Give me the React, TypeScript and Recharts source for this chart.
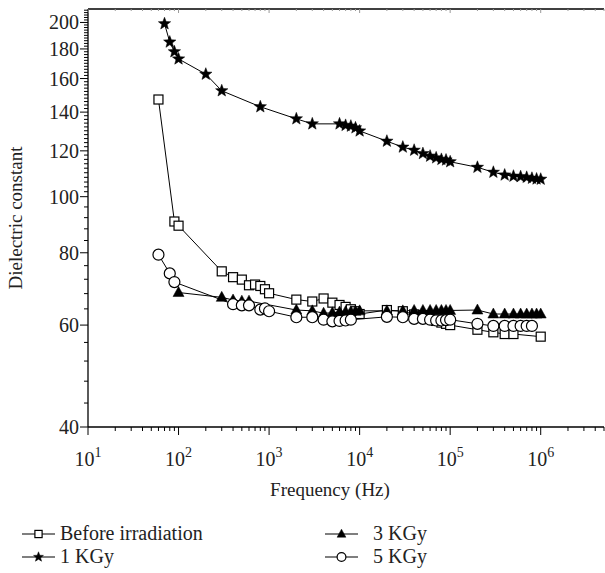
import React from 'react';
import { ComposedChart, Line, XAxis, YAxis } from 'recharts';

// ---------- data ----------
const beforeFreq = [60, 90, 100, 300, 400, 500, 600, 700, 800, 900, 1000, 2000, 3000, 4000, 5000, 6000, 7000, 8000, 9000, 10000, 20000, 30000, 40000, 50000, 60000, 70000, 80000, 90000, 100000, 200000, 300000, 400000, 500000, 1000000];
const beforeVal = [147.2, 90.6, 89.1, 74.3, 72.6, 71.9, 70.3, 70.5, 70.1, 69.2, 68.1, 66.4, 65.9, 66.7, 65.6, 65.0, 64.5, 63.9, 63.4, 62.7, 63.7, 63.4, 62.6, 62.0, 61.5, 61.0, 60.6, 60.3, 60.0, 58.9, 58.3, 57.9, 57.9, 57.3];

const kgy1Freq = [70, 80, 90, 100, 200, 300, 800, 2000, 3000, 6000, 7000, 8000, 9000, 10000, 20000, 30000, 40000, 50000, 60000, 70000, 80000, 90000, 100000, 200000, 300000, 400000, 500000, 600000, 700000, 800000, 900000, 1000000];
const kgy1Val = [199, 185, 178, 173, 162.8, 152.4, 143, 136.3, 133.6, 133.6, 132.8, 132.4, 131.5, 129.9, 124.7, 121.8, 120.3, 118.7, 117.5, 116.7, 116, 115.7, 114.9, 112.4, 110.2, 109, 108.5, 108.3, 108, 107.6, 107.3, 107.2];

const kgy3Freq = [100, 300, 400, 500, 600, 2000, 3000, 4000, 5000, 6000, 7000, 8000, 9000, 10000, 20000, 30000, 40000, 50000, 60000, 70000, 80000, 90000, 100000, 200000, 300000, 400000, 500000, 600000, 700000, 800000, 900000, 1000000];
const kgy3Val = [68.3, 67.0, 66.3, 66.0, 66.0, 63.7, 63.5, 62.9, 63.0, 63.2, 63.3, 63.3, 63.4, 63.5, 63.5, 63.5, 63.6, 63.6, 63.6, 63.6, 63.6, 63.6, 63.6, 63.7, 62.7, 62.7, 62.7, 62.7, 62.7, 62.7, 62.7, 62.7];

const kgy5Freq = [60, 80, 90, 400, 500, 600, 800, 900, 1000, 2000, 3000, 4000, 5000, 6000, 7000, 8000, 20000, 30000, 40000, 50000, 60000, 70000, 80000, 90000, 100000, 200000, 300000, 400000, 500000, 600000, 700000, 800000];
const kgy5Val = [79.4, 73.7, 71.2, 65.2, 64.9, 64.9, 63.8, 64.1, 63.4, 61.9, 61.9, 61.3, 60.9, 61.0, 61.1, 61.3, 62.0, 61.9, 61.5, 61.5, 61.3, 61.1, 61.1, 61.2, 61.3, 60.3, 59.8, 59.8, 59.8, 59.8, 59.8, 59.8];

const seriesNames = ['Before irradiation', '1 KGy', '3 KGy', '5 KGy'];

const xMajorTicks = [10, 100, 1000, 10000, 100000, 1000000];
const xTickExponents = ['1', '2', '3', '4', '5', '6'];
const yMajorTicks = [40, 60, 80, 100, 120, 140, 160, 180, 200];

// ---------- helpers ----------
const toRows = (fs: number[], vs: number[]) => fs.map((f, i) => ({ f, v: vs[i] }));
const beforeData = toRows(beforeFreq, beforeVal);
const kgy1Data = toRows(kgy1Freq, kgy1Val);
const kgy3Data = toRows(kgy3Freq, kgy3Val);
const kgy5Data = toRows(kgy5Freq, kgy5Val);

const xAllTicks: number[] = [];
for (let e = 1; e <= 6; e++) {
  for (let m = 1; m <= 9; m++) {
    const v = m * Math.pow(10, e);
    if (v <= 5000000) xAllTicks.push(v);
  }
}
const yAllTicks: number[] = [];
for (let v = 40; v < 100; v += 4) yAllTicks.push(v);
for (let v = 100; v <= 210; v += 2) yAllTicks.push(v);

const FONT = '"Liberation Serif", "Times New Roman", serif';

// ---------- markers ----------
const starPoints = (cx: number, cy: number, R: number) => {
  const r = R * 0.42;
  const pts: string[] = [];
  for (let i = 0; i < 10; i++) {
    const a = -Math.PI / 2 + (i * Math.PI) / 5;
    const rr = i % 2 === 0 ? R : r;
    pts.push(`${cx + rr * Math.cos(a)},${cy + rr * Math.sin(a)}`);
  }
  return pts.join(' ');
};

const Marker = ({ kind, cx, cy, s = 1 }: { kind: number; cx: number; cy: number; s?: number }) => {
  if (kind === 0)
    return <rect x={cx - 4.5 * s} y={cy - 4.5 * s} width={9 * s} height={9 * s} fill="#fff" stroke="#000" strokeWidth={1.2} />;
  if (kind === 1) return <polygon points={starPoints(cx, cy, 6.5 * s)} fill="#000" stroke="#000" strokeWidth={0.5} />;
  if (kind === 2)
    return (
      <polygon
        points={`${cx},${cy - 6 * s} ${cx + 5.5 * s},${cy + 4 * s} ${cx - 5.5 * s},${cy + 4 * s}`}
        fill="#000"
        stroke="#000"
        strokeWidth={0.5}
      />
    );
  return <circle cx={cx} cy={cy} r={5.5 * s} fill="#fff" stroke="#000" strokeWidth={1.2} />;
};

const makeDot = (kind: number) => (p: any) => {
  if (p.cx == null || p.cy == null) return <g key={`${kind}-${p.index}`} />;
  return (
    <g key={`${kind}-${p.index}`}>
      <Marker kind={kind} cx={p.cx} cy={p.cy} />
    </g>
  );
};

// ---------- ticks ----------
const XTick = (p: any) => {
  const v = p.payload.value;
  const idx = xMajorTicks.indexOf(v);
  const major = idx >= 0;
  return (
    <g>
      <line x1={p.x} y1={p.y} x2={p.x} y2={p.y + (major ? 8 : 4)} stroke="#000" strokeWidth={1} />
      {major && (
        <text x={p.x} y={p.y + 39} textAnchor="middle" fontFamily={FONT} fontSize={20} fill="#222">
          10
          <tspan dy={-9} fontSize={14}>
            {xTickExponents[idx]}
          </tspan>
        </text>
      )}
    </g>
  );
};

const XTopTick = (p: any) => {
  const v = p.payload.value;
  const major = xMajorTicks.indexOf(v) >= 0;
  return <line x1={p.x} y1={p.y} x2={p.x} y2={p.y + (major ? 4 : 2)} stroke="#999" strokeWidth={1} />;
};

const YTick = (p: any) => {
  const v = p.payload.value;
  const major = yMajorTicks.indexOf(v) >= 0;
  return (
    <g>
      <line x1={p.x - (major ? 8 : 4)} y1={p.y} x2={p.x} y2={p.y} stroke="#000" strokeWidth={1} />
      {major && (
        <text x={p.x - 9} y={p.y + 7} textAnchor="end" fontFamily={FONT} fontSize={20} fill="#222">
          {v}
        </text>
      )}
    </g>
  );
};

// ---------- legend ----------
const LegendBlock = () => {
  const items = [
    { kind: 0, x: 22, y: 534 },
    { kind: 1, x: 22, y: 557 },
    { kind: 2, x: 325, y: 534 },
    { kind: 3, x: 325, y: 557 },
  ];
  return (
    <svg width={605} height={573} style={{ position: 'absolute', left: 0, top: 0, pointerEvents: 'none' }}>
      {items.map((it) => (
        <g key={it.kind}>
          <line x1={it.x} y1={it.y} x2={it.x + 33} y2={it.y} stroke="#000" strokeWidth={1.2} />
          <Marker kind={it.kind} cx={it.x + 16.5} cy={it.y} s={0.8} />
          <text x={it.x + (it.x > 100 ? 48 : 38)} y={it.y + 6} fontFamily={FONT} fontSize={20} fill="#222">
            {seriesNames[it.kind]}
          </text>
        </g>
      ))}
      <text x={330} y={496} textAnchor="middle" fontFamily={FONT} fontSize={19} fill="#222">
        Frequency (Hz)
      </text>
      <text x={22} y={218} textAnchor="middle" fontFamily={FONT} fontSize={19} fill="#222" transform="rotate(-90 22 218)">
        Dielectric constant
      </text>
    </svg>
  );
};

export default function App() {
  return (
    <div style={{ position: 'absolute', left: 0, top: 0, width: 605, height: 573, background: '#fff' }}>
      <ComposedChart width={605} height={573} margin={{ top: 8, right: 1, bottom: 145, left: 87 }}>
        <XAxis
          xAxisId="b"
          dataKey="f"
          type="number"
          scale="log"
          domain={[10, 5000000]}
          allowDataOverflow
          ticks={xAllTicks}
          interval={0}
          tick={<XTick />}
          tickLine={false}
          tickSize={0}
          tickMargin={0}
          axisLine={{ stroke: '#000', strokeWidth: 1.3 }}
          height={1}
        />
        <XAxis
          xAxisId="t"
          orientation="top"
          dataKey="f"
          type="number"
          scale="log"
          domain={[10, 5000000]}
          allowDataOverflow
          ticks={xAllTicks}
          interval={0}
          tick={<XTopTick />}
          tickLine={false}
          tickSize={0}
          tickMargin={0}
          axisLine={{ stroke: '#000', strokeWidth: 1.3 }}
          height={1}
        />
        <YAxis
          dataKey="v"
          type="number"
          scale="log"
          domain={[40, 211]}
          allowDataOverflow
          ticks={yAllTicks}
          interval={0}
          tick={<YTick />}
          tickLine={false}
          tickSize={0}
          tickMargin={0}
          axisLine={{ stroke: '#000', strokeWidth: 1.3 }}
          width={1}
        />
        <Line xAxisId="b" data={beforeData} dataKey="v" name={seriesNames[0]} stroke="#000" strokeWidth={1} dot={makeDot(0)} isAnimationActive={false} />
        <Line xAxisId="b" data={kgy1Data} dataKey="v" name={seriesNames[1]} stroke="#000" strokeWidth={1} dot={makeDot(1)} isAnimationActive={false} />
        <Line xAxisId="b" data={kgy3Data} dataKey="v" name={seriesNames[2]} stroke="#000" strokeWidth={1} dot={makeDot(2)} isAnimationActive={false} />
        <Line xAxisId="b" data={kgy5Data} dataKey="v" name={seriesNames[3]} stroke="#000" strokeWidth={1} dot={makeDot(3)} isAnimationActive={false} />
      </ComposedChart>
      <LegendBlock />
    </div>
  );
}
